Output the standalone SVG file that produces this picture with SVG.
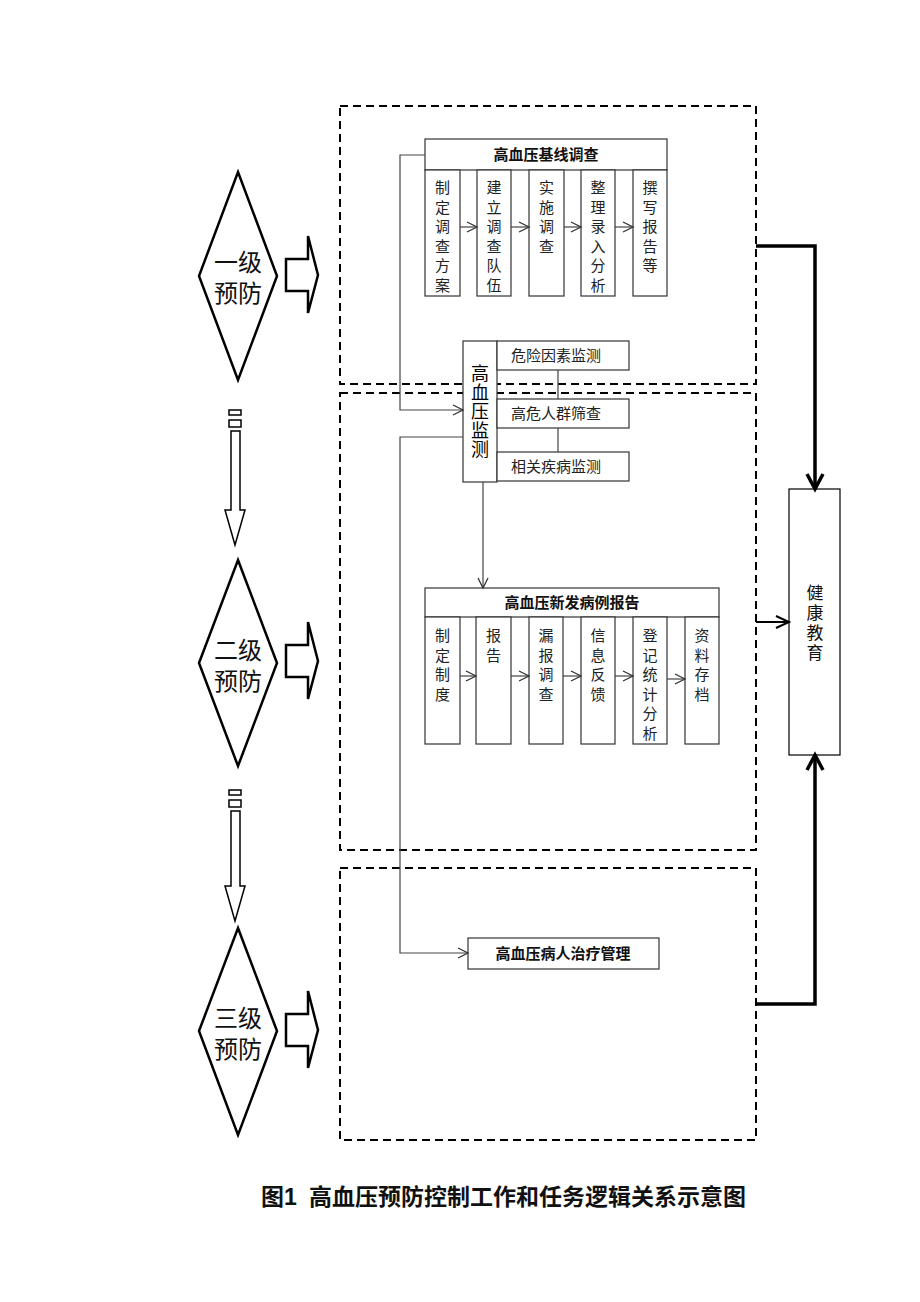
<svg xmlns="http://www.w3.org/2000/svg" width="920" height="1302" viewBox="0 0 920 1302">
<defs>
<style>
text{font-family:"Liberation Sans","Noto Sans CJK SC",sans-serif;fill:#222}
.box{fill:#fff;stroke:#333;stroke-width:1.2}
.dash{fill:none;stroke:#000;stroke-width:2;stroke-dasharray:8 5}
.thin{fill:none;stroke:#444;stroke-width:1.2}
.thick{fill:none;stroke:#000;stroke-width:3.5}
.mid{fill:none;stroke:#000;stroke-width:2}
.sub{font-size:15px;text-anchor:middle}
.ttl{font-size:15px;font-weight:bold;text-anchor:middle;fill:#111}
.blk{fill:#fff;stroke:#000;stroke-width:2.5}
.dia{font-size:24px;text-anchor:middle;fill:#111}
</style>
<marker id="ah" markerUnits="userSpaceOnUse" markerWidth="14" markerHeight="14" refX="12" refY="6" orient="auto"><path d="M2,1 L12,6 L2,11" fill="none" stroke="#333" stroke-width="1.3"/></marker>
<marker id="ahm" markerUnits="userSpaceOnUse" markerWidth="18" markerHeight="18" refX="15" refY="8" orient="auto"><path d="M2,2 L15,8 L2,14" fill="none" stroke="#000" stroke-width="2"/></marker>
<marker id="ahb" markerUnits="userSpaceOnUse" markerWidth="22" markerHeight="22" refX="17" refY="10" orient="auto"><path d="M2,2 L17,10 L2,18" fill="none" stroke="#000" stroke-width="3.5"/></marker>
</defs>

<g id="zones">
<rect class="dash" x="340" y="106" width="416" height="278"/>
<rect class="dash" x="340" y="393" width="416" height="457"/>
<rect class="dash" x="340" y="868" width="416" height="272"/>
</g>

<g id="level1">
<polygon points="238,172 277,276 238,380 199,276" fill="#fff" stroke="#000" stroke-width="2.5"/>
<text class="dia" x="238" y="271">一级</text>
<text class="dia" x="238" y="302">预防</text>
</g>
<g id="level2">
<polygon points="238,560 277,663 238,766 199,663" fill="#fff" stroke="#000" stroke-width="2.5"/>
<text class="dia" x="238" y="659">二级</text>
<text class="dia" x="238" y="690">预防</text>
</g>
<g id="level3">
<polygon points="238,928 277,1031 238,1135 199,1031" fill="#fff" stroke="#000" stroke-width="2.5"/>
<text class="dia" x="238" y="1027">三级</text>
<text class="dia" x="238" y="1058">预防</text>
</g>

<g id="block-arrows">
<polygon class="blk" points="286,259 308,259 308,236 318,275 308,313 308,291 286,291"/>
<polygon class="blk" points="286,645 308,645 308,622 318,661 308,699 308,677 286,677"/>
<polygon class="blk" points="286,1014 308,1014 308,991 318,1030 308,1068 308,1046 286,1046"/>
<rect x="229" y="410" width="12" height="5" fill="#fff" stroke="#000" stroke-width="1.5"/>
<rect x="229" y="420" width="12" height="7" fill="#fff" stroke="#000" stroke-width="1.5"/>
<polygon points="231,431 240,431 240,510 245,510 235,545 225,510 231,510" fill="#fff" stroke="#000" stroke-width="1.5"/>
<rect x="229" y="790" width="12" height="5" fill="#fff" stroke="#000" stroke-width="1.5"/>
<rect x="229" y="800" width="12" height="7" fill="#fff" stroke="#000" stroke-width="1.5"/>
<polygon points="231,811 240,811 240,886 245,886 235,921 225,886 231,886" fill="#fff" stroke="#000" stroke-width="1.5"/>
</g>

<g id="baseline-survey">
<rect class="box" x="425" y="139" width="242" height="31"/>
<text class="ttl" x="546" y="160">高血压基线调查</text>
<rect class="box" x="425" y="170" width="35" height="126"/>
<rect class="box" x="477" y="170" width="34" height="126"/>
<rect class="box" x="529" y="170" width="35" height="126"/>
<rect class="box" x="581" y="170" width="34" height="126"/>
<rect class="box" x="633" y="170" width="34" height="126"/>
<text class="sub" y="193"><tspan x="442.5">制</tspan><tspan x="442.5" dy="19.5">定</tspan><tspan x="442.5" dy="19.5">调</tspan><tspan x="442.5" dy="19.5">查</tspan><tspan x="442.5" dy="19.5">方</tspan><tspan x="442.5" dy="19.5">案</tspan></text>
<text class="sub" y="193"><tspan x="494">建</tspan><tspan x="494" dy="19.5">立</tspan><tspan x="494" dy="19.5">调</tspan><tspan x="494" dy="19.5">查</tspan><tspan x="494" dy="19.5">队</tspan><tspan x="494" dy="19.5">伍</tspan></text>
<text class="sub" y="193"><tspan x="546.5">实</tspan><tspan x="546.5" dy="19.5">施</tspan><tspan x="546.5" dy="19.5">调</tspan><tspan x="546.5" dy="19.5">查</tspan></text>
<text class="sub" y="193"><tspan x="598">整</tspan><tspan x="598" dy="19.5">理</tspan><tspan x="598" dy="19.5">录</tspan><tspan x="598" dy="19.5">入</tspan><tspan x="598" dy="19.5">分</tspan><tspan x="598" dy="19.5">析</tspan></text>
<text class="sub" y="193"><tspan x="650">撰</tspan><tspan x="650" dy="19.5">写</tspan><tspan x="650" dy="19.5">报</tspan><tspan x="650" dy="19.5">告</tspan><tspan x="650" dy="19.5">等</tspan></text>
</g>

<g id="monitoring">
<rect class="box" x="463" y="341" width="34" height="141"/>
<text x="480" y="380" style="font-size:18px;text-anchor:middle;fill:#000"><tspan x="480">高</tspan><tspan x="480" dy="19">血</tspan><tspan x="480" dy="19">压</tspan><tspan x="480" dy="19">监</tspan><tspan x="480" dy="19">测</tspan></text>
<rect class="box" x="497" y="341" width="132" height="29"/>
<text class="sub" x="556" y="361">危险因素监测</text>
<rect class="box" x="497" y="399" width="132" height="29"/>
<text class="sub" x="556" y="419">高危人群筛查</text>
<rect class="box" x="497" y="452" width="132" height="29"/>
<text class="sub" x="556" y="472">相关疾病监测</text>
</g>

<g id="new-case-report">
<rect class="box" x="425" y="588" width="294" height="29"/>
<text class="ttl" x="572" y="608">高血压新发病例报告</text>
<rect class="box" x="425" y="617" width="35" height="127"/>
<rect class="box" x="476" y="617" width="35" height="127"/>
<rect class="box" x="529" y="617" width="34" height="127"/>
<rect class="box" x="581" y="617" width="34" height="127"/>
<rect class="box" x="633" y="617" width="34" height="127"/>
<rect class="box" x="685" y="617" width="34" height="127"/>
<text class="sub" y="641"><tspan x="442.5">制</tspan><tspan x="442.5" dy="19.5">定</tspan><tspan x="442.5" dy="19.5">制</tspan><tspan x="442.5" dy="19.5">度</tspan></text>
<text class="sub" y="641"><tspan x="493.5">报</tspan><tspan x="493.5" dy="19.5">告</tspan></text>
<text class="sub" y="641"><tspan x="546">漏</tspan><tspan x="546" dy="19.5">报</tspan><tspan x="546" dy="19.5">调</tspan><tspan x="546" dy="19.5">查</tspan></text>
<text class="sub" y="641"><tspan x="598">信</tspan><tspan x="598" dy="19.5">息</tspan><tspan x="598" dy="19.5">反</tspan><tspan x="598" dy="19.5">馈</tspan></text>
<text class="sub" y="641"><tspan x="650">登</tspan><tspan x="650" dy="19.5">记</tspan><tspan x="650" dy="19.5">统</tspan><tspan x="650" dy="19.5">计</tspan><tspan x="650" dy="19.5">分</tspan><tspan x="650" dy="19.5">析</tspan></text>
<text class="sub" y="641"><tspan x="702">资</tspan><tspan x="702" dy="19.5">料</tspan><tspan x="702" dy="19.5">存</tspan><tspan x="702" dy="19.5">档</tspan></text>
</g>

<g id="treatment">
<rect class="box" x="468" y="938" width="191" height="31"/>
<text class="ttl" x="563" y="959">高血压病人治疗管理</text>
</g>

<g id="health-education">
<rect fill="#fff" stroke="#000" stroke-width="1.2" x="789" y="489" width="51" height="266"/>
<text x="815" y="599" style="font-size:17px;text-anchor:middle;fill:#111"><tspan x="815">健</tspan><tspan x="815" dy="20">康</tspan><tspan x="815" dy="20">教</tspan><tspan x="815" dy="20">育</tspan></text>
</g>

<g id="connectors">
<line class="thin" x1="460" y1="227" x2="477" y2="227" marker-end="url(#ah)"/>
<line class="thin" x1="511" y1="227" x2="529" y2="227" marker-end="url(#ah)"/>
<line class="thin" x1="564" y1="227" x2="581" y2="227" marker-end="url(#ah)"/>
<line class="thin" x1="615" y1="227" x2="633" y2="227" marker-end="url(#ah)"/>
<line class="thin" x1="460" y1="676" x2="476" y2="676" marker-end="url(#ah)"/>
<line class="thin" x1="511" y1="676" x2="529" y2="676" marker-end="url(#ah)"/>
<line class="thin" x1="563" y1="676" x2="581" y2="676" marker-end="url(#ah)"/>
<line class="thin" x1="615" y1="676" x2="633" y2="676" marker-end="url(#ah)"/>
<line class="thin" x1="667" y1="679" x2="685" y2="679" marker-end="url(#ah)"/>
<polyline class="thin" points="425,155 400,155 400,410 463,410" marker-end="url(#ah)"/>
<polyline class="thin" points="463,437 400,437 400,953 468,953" marker-end="url(#ah)"/>
<line class="thin" x1="483" y1="482" x2="483" y2="588" marker-end="url(#ah)"/>
<line class="thin" x1="558" y1="370" x2="558" y2="399"/>
<line class="thin" x1="558" y1="428" x2="558" y2="452"/>
<polyline class="thick" points="756,246 815,246 815,489" marker-end="url(#ahb)"/>
<line class="mid" x1="756" y1="622" x2="789" y2="622" marker-end="url(#ahm)"/>
<polyline class="thick" points="756,1004 815,1004 815,755" marker-end="url(#ahb)"/>
</g>

<g id="caption">
<text y="1205" style="font-size:23px;font-weight:bold;fill:#111"><tspan x="261">图1</tspan><tspan x="309">高血压预防控制工作和任务逻辑关系示意图</tspan></text>
</g>
</svg>
